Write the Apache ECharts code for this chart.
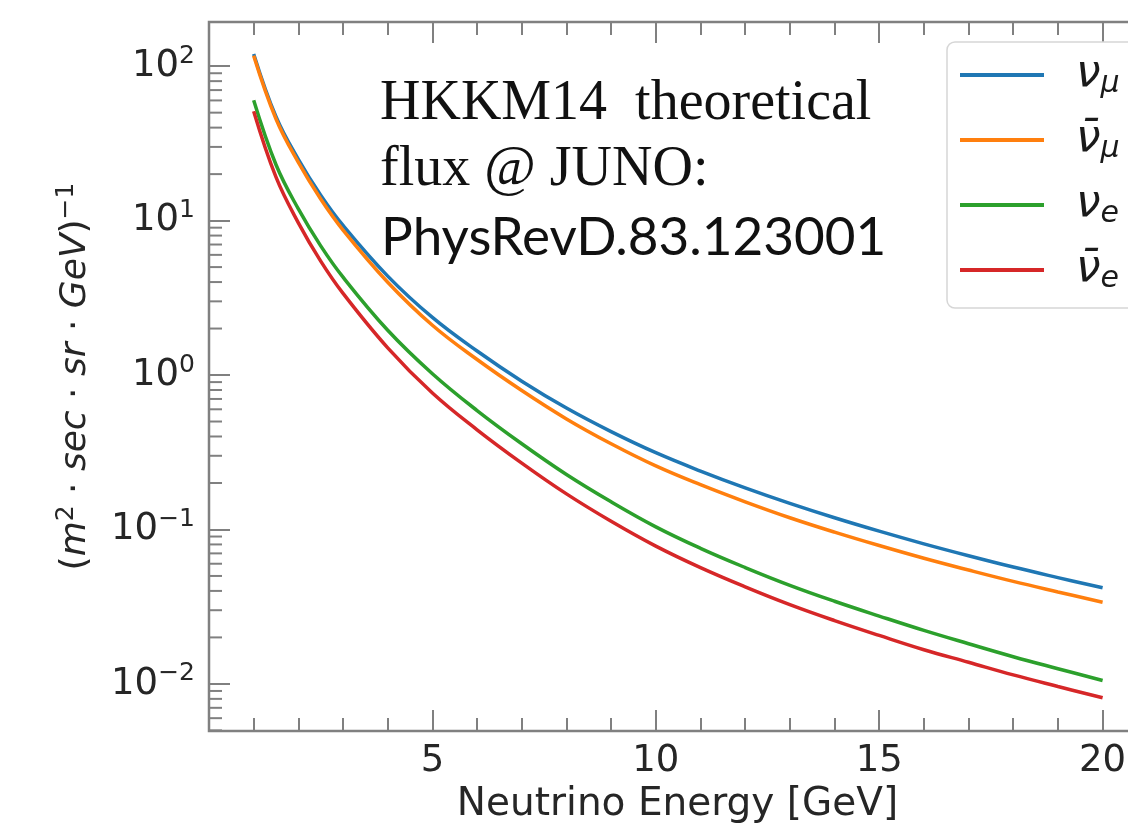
<!DOCTYPE html>
<html>
<head>
<meta charset="utf-8">
<script src="https://cdn.jsdelivr.net/npm/echarts@6/dist/echarts.min.js"></script>
<style>
  html, body { margin: 0; background: #fff; }
  #chart { width: 1128px; height: 828px; }
</style>
</head>
<body>
<div id="chart"></div>
<script>
// neutrino energy (GeV)
const energies = [1, 1.5, 2, 2.5, 3, 4, 5, 6, 7, 8, 9, 10, 11, 12, 13, 14, 15, 16, 17, 18, 19, 20]
// flux, (m^2 sec sr GeV)^-1
const numu = [120, 47, 24.9, 14.6, 9.3, 4.37, 2.36, 1.43, 0.912, 0.611, 0.430, 0.314, 0.239, 0.186, 0.1476, 0.1191, 0.0975, 0.0807, 0.0676, 0.0571, 0.0488, 0.0419]
const numubar = [117, 45.5, 23.8, 13.8, 8.68, 3.99, 2.10, 1.26, 0.794, 0.520, 0.359, 0.258, 0.195, 0.151, 0.1191, 0.0961, 0.0787, 0.0651, 0.0546, 0.0461, 0.0394, 0.0338]
const nue = [60.1, 23.0, 11.9, 6.86, 4.30, 1.95, 1.02, 0.589, 0.359, 0.227, 0.151, 0.104, 0.0755, 0.0567, 0.0435, 0.0343, 0.0275, 0.0222, 0.0182, 0.0150, 0.01254, 0.01052]
const nuebar = [51.1, 19.1, 9.67, 5.47, 3.38, 1.50, 0.765, 0.442, 0.269, 0.170, 0.113, 0.078, 0.0566, 0.0425, 0.0326, 0.0257, 0.0206, 0.01665, 0.0138, 0.01143, 0.00962, 0.00813]

const seriesNames = ['ν_μ', 'ν̄_μ', 'ν_e', 'ν̄_e']
const colors = ['#1f77b4', '#ff7f0e', '#2ca02c', '#d62728']
const xTickLabels = [5, 10, 15, 20]
const yDecades = [-3, -2, -1, 0, 1, 2]
const noteLines = ['HKKM14  theoretical', 'flux @ JUNO:', 'PhysRevD.83.123001']

const yMin = Math.pow(10, -2.305)
const yMax = Math.pow(10, 2.286)
const axisGray = '#808080'
const ink = '#262626'

const toPairs = ys => energies.map((e, i) => [e, ys[i]])
const sup = n => (n < 0 ? '\u2212' + (-n) : String(n))

const chart = echarts.init(document.getElementById('chart'))

// the real frame runs past the right edge of the picture, so the axis
// goes on to 25 and only 0..~20.5 is visible
const xCommon = {
  type: 'value',
  min: 0,
  max: 25,
  interval: 5,
  axisLine: { show: false },
  splitLine: { show: false },
  axisTick: { inside: true, length: 21, lineStyle: { color: axisGray, width: 2 } },
  minorTick: { show: true, splitNumber: 5, length: 13, lineStyle: { color: axisGray, width: 2 } },
}

const notes = [
  { type: 'text', left: 380, top: 76, style: { text: noteLines[0], font: '56px "Liberation Serif"', fill: '#111' } },
  { type: 'text', left: 380, top: 142, style: { text: noteLines[1], font: '56px "Liberation Serif"', fill: '#111' } },
  { type: 'text', left: 381, top: 211, style: { text: noteLines[2], font: '53px Lato', fill: '#111' } },
]

chart.setOption({
  animation: false,
  backgroundColor: '#fff',
  grid: {
    left: 209,
    top: 22,
    bottom: 97,
    width: 1117,
    outerBoundsMode: 'none',
    containLabel: false,
    show: true,
    borderColor: axisGray,
    borderWidth: 2.5,
    backgroundColor: 'transparent',
  },
  legend: {
    data: seriesNames.map(name => ({ name, icon: 'rect' })),
    orient: 'vertical',
    left: 947,
    top: 42,
    itemWidth: 84,
    itemHeight: 4,
    itemGap: 15,
    padding: [8, 80, 13, 13],
    backgroundColor: '#fff',
    borderColor: '#d6d6d6',
    borderWidth: 1.5,
    borderRadius: 8,
    formatter: name => {
      const [a, b] = name.split('_')
      return '{n|' + a + '}{sub|' + b + '}'
    },
    textStyle: {
      rich: {
        n: { fontFamily: 'DejaVu Sans', fontStyle: 'italic', fontSize: 44, color: '#1a1a1a', padding: [0, 0, 0, 27], height: 50, lineHeight: 50 },
        sub: { fontFamily: 'DejaVu Sans', fontStyle: 'italic', fontSize: 30, color: '#1a1a1a', padding: [18, 0, 0, 0], lineHeight: 50 },
      },
    },
  },
  xAxis: [
    Object.assign({}, xCommon, {
      position: 'bottom',
      name: 'Neutrino Energy [GeV]',
      nameLocation: 'middle',
      nameGap: 47,
      nameTextStyle: { fontFamily: 'DejaVu Sans', fontSize: 39, color: ink, padding: [0, 180, 0, 0] },
      axisLabel: {
        margin: 12,
        fontFamily: 'DejaVu Sans',
        fontSize: 37,
        color: ink,
        formatter: v => (xTickLabels.indexOf(v) >= 0 ? String(v) : ''),
      },
    }),
    Object.assign({}, xCommon, {
      position: 'top',
      axisLabel: { show: false },
    }),
  ],
  yAxis: {
    type: 'log',
    logBase: 10,
    min: yMin,
    max: yMax,
    axisLine: { show: false },
    splitLine: { show: false },
    axisTick: { inside: true, length: 21, lineStyle: { color: axisGray, width: 2 } },
    name: '{p|(}{i|m}{s|2}{p| · }{i|sec}{p| · }{i|sr}{p| · }{i|GeV}{p|)}{s|−1}',
    nameLocation: 'middle',
    nameRotate: 90,
    nameGap: 112,
    nameTextStyle: {
      rich: {
        p: { fontFamily: 'DejaVu Sans', fontSize: 36, color: ink },
        i: { fontFamily: 'DejaVu Sans', fontStyle: 'italic', fontSize: 36, color: ink },
        s: { fontFamily: 'DejaVu Sans', fontSize: 25, color: ink, padding: [0, 0, 18, 0] },
      },
    },
    axisLabel: {
      margin: 14,
      showMinLabel: false,
      showMaxLabel: false,
      formatter: v => {
        const lg = Math.log10(v)
        const e = Math.round(lg)
        if (Math.abs(lg - e) > 0.01) return ''
        return '{b|10}{s|' + sup(e) + '}'
      },
      rich: {
        b: { fontFamily: 'DejaVu Sans', fontSize: 37, color: ink },
        s: { fontFamily: 'DejaVu Sans', fontSize: 25, color: ink, padding: [0, 0, 20, 0] },
      },
    },
  },
  graphic: notes,
  series: [
    { name: seriesNames[0], data: toPairs(numu), color: colors[0] },
    { name: seriesNames[1], data: toPairs(numubar), color: colors[1] },
    { name: seriesNames[2], data: toPairs(nue), color: colors[2] },
    { name: seriesNames[3], data: toPairs(nuebar), color: colors[3] },
  ].map(s => Object.assign({
    type: 'line',
    symbol: 'none',
    smooth: 0.4,
    lineStyle: { width: 3.5, color: s.color },
    itemStyle: { color: s.color },
  }, s)),
})

// log-spaced minor ticks (2..9 x 10^k) on the left spine, placed through the axis scale
const x0 = chart.convertToPixel({ xAxisIndex: 0 }, 0)
const minorTicks = []
yDecades.forEach(k => {
  for (let m = 2; m <= 9; m++) {
    const v = m * Math.pow(10, k)
    if (v <= yMin || v >= yMax) continue
    const y = chart.convertToPixel({ yAxisIndex: 0 }, v)
    minorTicks.push({
      type: 'line',
      silent: true,
      z: 1,
      shape: { x1: x0, y1: y, x2: x0 + 13, y2: y },
      style: { stroke: axisGray, lineWidth: 2 },
    })
  }
})
chart.setOption({ graphic: notes.concat(minorTicks) })
</script>
</body>
</html>
